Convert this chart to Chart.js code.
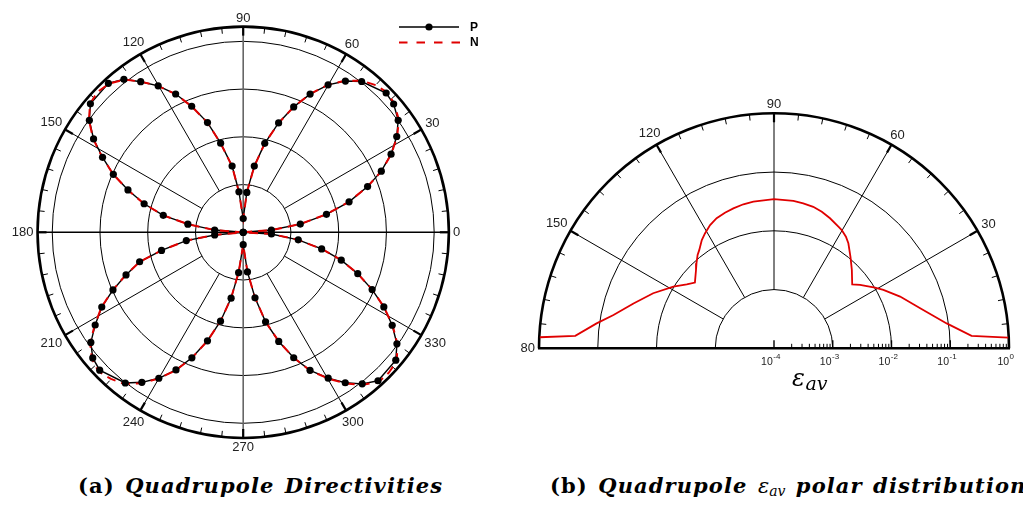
<!DOCTYPE html>
<html>
<head>
<meta charset="utf-8">
<script src="https://cdn.jsdelivr.net/npm/chart.js@4.4.1/dist/chart.umd.min.js"></script>
<style>
  html, body { margin: 0; padding: 0; background: #fff; width: 1023px; height: 509px; overflow: hidden; position: relative; }
  #panelA { position: absolute; left: 0; top: 0; width: 512px; height: 465px; }
  #panelB { position: absolute; left: 520px; top: 0; width: 503px; height: 465px; }
  .cap { position: absolute; top: 475px; line-height: 22px; font-family: "DejaVu Serif", serif; font-weight: bold; font-size: 21px; letter-spacing: 1.1px; word-spacing: 2px; white-space: nowrap; color: #000; }
  .cap i { font-style: italic; }
  .math { font-family: "DejaVu Serif", serif; font-weight: normal; font-style: italic; font-size: 21px; letter-spacing: 0; }
  .math sub { font-size: 14px; vertical-align: -3px; }
</style>
</head>
<body>
<div id="panelA"><canvas id="chartA"></canvas></div>
<div id="panelB"><canvas id="chartB"></canvas></div>
<div class="cap" style="left:78px">(a) <i>Quadrupole Directivities</i></div>
<div class="cap" style="left:550px">(b) <i>Quadrupole <span class="math">ε<sub>av</sub></span> polar distribution</i></div>

<script>
// ---- (a) Quadrupole directivity, normalised amplitude vs. angle (deg) ----
const pAngles = [0, 4.6, 8.2, 12.2, 16.1, 20.2, 23.9, 27.9, 32, 35.9, 40.5, 44.3, 51.9, 56, 60.1, 64.2, 68.1, 72.1, 76.4, 80.5, 84.8, 90,
  96, 99.5, 104.2, 108, 112.2, 116, 120.1, 124.2, 127.9, 132.1, 139.9, 143.9, 148, 151.9, 155.9, 159.8, 163.9, 168, 171.6, 175.5, 180,
  185.3, 188.3, 192.5, 195.9, 200, 203.9, 207.9, 212.1, 215.9, 219.9, 223.9, 232, 236, 240, 244, 247.8, 251.8, 255.7, 259.6, 263.5, 270,
  276.1, 280.2, 284, 288, 291.9, 295.8, 300.2, 304.1, 308.1, 312.2, 320, 324, 328, 332, 336, 340.1, 344.1, 348, 352.2, 356.6, 360];
const pValues = [0, .148, .302, .446, .577, .694, .791, .876, .948, 1.002, 1.036, 1.046, 1.005, .957, .892, .805, .709, .603, .480, .352, .210, .072,
  .214, .352, .482, .605, .714, .807, .888, .955, 1.017, 1.053, 1.046, .997, .924, .835, .745, .643, .540, .428, .293, .150, 0,
  .150, .301, .438, .564, .653, .746, .838, .915, .985, 1.027, 1.043, 1.003, .949, .884, .803, .711, .599, .481, .351, .213, .065,
  .209, .349, .484, .602, .709, .804, .885, .953, 1.010, 1.051, 1.043, .995, .920, .834, .739, .638, .534, .420, .291, .148, 0];

const nAngles = [0, 4.6, 8.2, 12.2, 16.1, 20.2, 23.9, 27.9, 32, 35.9, 40.5, 44.3, 48, 51.9, 56, 60.1, 64.2, 68.1, 72.1, 76.4, 80.5, 84.8, 90,
  96, 99.5, 104.2, 108, 112.2, 116, 120.1, 124.2, 127.9, 132.1, 136, 139.9, 143.9, 148, 151.9, 155.9, 159.8, 163.9, 168, 171.6, 175.5, 180,
  185.3, 188.3, 192.5, 195.9, 200, 203.9, 207.9, 212.1, 215.9, 219.9, 223.9, 228, 232, 236, 240, 244, 247.8, 251.8, 255.7, 259.6, 263.5, 270,
  276.1, 280.2, 284, 288, 291.9, 295.8, 300.2, 304.1, 308.1, 312.2, 316, 320, 324, 328, 332, 336, 340.1, 344.1, 348, 352.2, 356.6, 360];
const nValues = [0, .150, .300, .445, .576, .693, .792, .878, .951, 1.006, 1.040, 1.052, 1.038, 1.010, .960, .893, .806, .709, .602, .479, .350, .208, .072,
  .212, .350, .481, .604, .713, .806, .887, .956, 1.015, 1.050, 1.060, 1.048, 1.000, .927, .837, .746, .644, .541, .428, .292, .149, 0,
  .150, .300, .438, .563, .654, .747, .840, .918, .990, 1.033, 1.052, 1.035, 1.010, .955, .886, .805, .712, .600, .481, .350, .212, .065,
  .208, .348, .483, .601, .709, .806, .888, .958, 1.016, 1.058, 1.060, 1.050, .998, .923, .835, .740, .638, .534, .420, .290, .148, 0];

const dirRings = [0.25, 0.5, 0.75, 1.0];
const dirMax = 1.077;
const dirAngleLabels = [0, 30, 60, 90, 120, 150, 180, 210, 240, 270, 300, 330];
const legendNames = ['P', 'N'];

// ---- (b) ε_av polar distribution over the upper half plane ----
const epsAngles = [2.6, 3.6, 8.2, 15.3, 22.3, 28.1, 31, 36.4, 39.3, 45.2, 50.1, 54.7, 57.2, 60.2, 62.1, 66.7, 70.7, 74.5, 78.6, 82.5, 90,
  98, 102, 106.2, 109.9, 113.8, 117.4, 121, 123.7, 127.3, 129.3, 132.3, 134.9, 140.3, 143.8, 148.5, 155.5, 162.3, 168.3, 172, 176.4, 177.3];
const epsValues = [0.977, 0.234, 0.0933, 0.0380, 0.0209, 0.0129, 0.0101, 0.00661, 0.00525, 0.00759, 0.0107, 0.0155, 0.0182, 0.0209, 0.0220, 0.0257, 0.0290, 0.0316, 0.0329, 0.0339, 0.0347,
  0.0331, 0.0321, 0.0302, 0.0284, 0.0263, 0.0231, 0.0191, 0.0164, 0.0126, 0.0113, 0.00912, 0.00760, 0.00562, 0.00692, 0.0102, 0.0182, 0.0324, 0.0617, 0.112, 0.245, 0.977];
const epsDecades = [-4, -3, -2, -1, 0];
const epsAngleLabels = [30, 60, 90, 120, 150, 180];

const LABEL_FONT = '13px "Liberation Sans", Arial, sans-serif';
const RED = '#e00000';

function polarXY(angles, radii, toR) {
  return angles.map((a, i) => {
    const t = a * Math.PI / 180;
    const r = toR ? toR(radii[i]) : radii[i];
    return { x: r * Math.cos(t), y: r * Math.sin(t) };
  });
}

function frame(chart) {
  const { x, y } = chart.scales;
  const cx = x.getPixelForValue(0), cy = y.getPixelForValue(0);
  const k = x.getPixelForValue(1) - cx;
  return { cx, cy, k };
}

function pt(cx, cy, deg, r) {
  const t = deg * Math.PI / 180;
  return [cx + r * Math.cos(t), cy - r * Math.sin(t)];
}

function line(ctx, a, b, w, color) {
  ctx.beginPath();
  ctx.lineWidth = w;
  ctx.strokeStyle = color || '#000';
  ctx.moveTo(a[0], a[1]);
  ctx.lineTo(b[0], b[1]);
  ctx.stroke();
}

function angleLabel(ctx, cx, cy, deg, R, text) {
  ctx.font = LABEL_FONT;
  ctx.fillStyle = '#222';
  ctx.textAlign = 'center';
  ctx.textBaseline = 'middle';
  const w = ctx.measureText(text).width, h = 10;
  const t = deg * Math.PI / 180;
  const off = R + 4 + 0.5 * (w * Math.abs(Math.cos(t)) + h * Math.abs(Math.sin(t)));
  const p = pt(cx, cy, deg, off);
  ctx.fillText(text, p[0], p[1] + 0.5);
}

// Full-circle polar grid for the directivity plot
const directivityGrid = {
  id: 'directivityGrid',
  beforeDatasetsDraw(chart) {
    const ctx = chart.ctx;
    const { cx, cy, k } = frame(chart);
    const R = dirMax * k;
    ctx.save();
    ctx.lineCap = 'butt';
    dirRings.forEach(r => {
      ctx.beginPath();
      ctx.lineWidth = 1;
      ctx.strokeStyle = '#000';
      ctx.arc(cx, cy, r * k, 0, Math.PI * 2);
      ctx.stroke();
    });
    dirAngleLabels.forEach(a => {
      if (a % 90 !== 0) line(ctx, pt(cx, cy, a, dirRings[0] * k), pt(cx, cy, a, R), 1);
    });
    line(ctx, pt(cx, cy, 180, R), pt(cx, cy, 0, R), 1.4);
    line(ctx, pt(cx, cy, 90, R), pt(cx, cy, 270, R), 1.6, '#666');
    for (let a = 0; a < 360; a += 6) {
      if (a % 30 === 0) line(ctx, pt(cx, cy, a, R - 9), pt(cx, cy, a, R), 2.2);
      else line(ctx, pt(cx, cy, a, R - 6), pt(cx, cy, a, R), 1);
    }
    ctx.beginPath();
    ctx.lineWidth = 2.6;
    ctx.strokeStyle = '#000';
    ctx.arc(cx, cy, R, 0, Math.PI * 2);
    ctx.stroke();
    dirAngleLabels.forEach(a => angleLabel(ctx, cx, cy, a, R, String(a)));
    ctx.restore();
  },
  afterDraw(chart) {
    const ctx = chart.ctx;
    ctx.save();
    line(ctx, [399, 27], [459, 27], 1.5);
    ctx.beginPath();
    ctx.fillStyle = '#000';
    ctx.arc(429, 27, 3.6, 0, Math.PI * 2);
    ctx.fill();
    ctx.setLineDash([8.5, 9]);
    line(ctx, [399, 42.5], [460, 42.5], 2, RED);
    ctx.setLineDash([]);
    ctx.font = 'bold 12px "Liberation Sans", Arial, sans-serif';
    ctx.fillStyle = '#000';
    ctx.textAlign = 'left';
    ctx.textBaseline = 'middle';
    ctx.fillText(legendNames[0], 470, 27.5);
    ctx.fillText(legendNames[1], 470, 43);
    ctx.restore();
  }
};

// Half-circle polar grid with a logarithmic radius for ε_av
const epsGrid = {
  id: 'epsGrid',
  beforeDatasetsDraw(chart) {
    const ctx = chart.ctx;
    const { cx, cy, k } = frame(chart);
    const r0 = epsDecades[0];
    const R = (epsDecades[epsDecades.length - 1] - r0) * k;
    ctx.save();
    epsDecades.slice(1, -1).forEach(d => {
      ctx.beginPath();
      ctx.lineWidth = 1;
      ctx.strokeStyle = '#000';
      ctx.arc(cx, cy, (d - r0) * k, Math.PI, 2 * Math.PI);
      ctx.stroke();
    });
    const rIn = (epsDecades[1] - r0) * k;
    [30, 60, 90, 120, 150].forEach(a => line(ctx, pt(cx, cy, a, rIn), pt(cx, cy, a, R), 1));
    for (let a = 6; a < 180; a += 6) {
      if (a % 30 === 0) line(ctx, pt(cx, cy, a, R - 9), pt(cx, cy, a, R), 2.2);
      else line(ctx, pt(cx, cy, a, R - 6), pt(cx, cy, a, R), 1);
    }
    ctx.beginPath();
    ctx.lineWidth = 2.6;
    ctx.strokeStyle = '#000';
    ctx.arc(cx, cy, R, Math.PI, 2 * Math.PI);
    ctx.stroke();
    // radial axis along the baseline, with log ticks on the right half
    line(ctx, [cx - R - 1, cy], [cx + R + 1, cy], 2.4);
    for (let d = r0; d <= epsDecades[epsDecades.length - 1]; d++) {
      const xd = cx + (d - r0) * k;
      line(ctx, [xd, cy], [xd, cy - 8], 1.4);
      if (d < 0) {
        for (let m = 2; m <= 9; m++) {
          const xm = cx + (d + Math.log10(m) - r0) * k;
          line(ctx, [xm, cy], [xm, cy - 4.5], 1);
        }
      }
    }
    // decade labels
    ctx.fillStyle = '#222';
    ctx.textBaseline = 'alphabetic';
    ctx.textAlign = 'left';
    const baseFont = '10.5px "Liberation Sans", Arial, sans-serif';
    const supFont = '8px "Liberation Sans", Arial, sans-serif';
    epsDecades.forEach(d => {
      const xd = cx + (d - r0) * k;
      ctx.font = baseFont;
      const wb = ctx.measureText('10').width;
      ctx.font = supFont;
      const e = String(d);
      const ws = ctx.measureText(e).width;
      const x0 = xd - 3.5 - (wb + ws) / 2;
      ctx.font = baseFont;
      ctx.fillText('10', x0, 365);
      ctx.font = supFont;
      ctx.fillText(e, x0 + wb + 0.5, 359);
    });
    // axis title
    ctx.fillStyle = '#000';
    ctx.font = 'italic 24px "DejaVu Serif", serif';
    ctx.fillText('ε', cx + 18, 385.5);
    const we = ctx.measureText('ε').width;
    ctx.font = 'italic 19px "DejaVu Serif", serif';
    ctx.fillText('av', cx + 18 + we + 0.5, 389.5);
    epsAngleLabels.forEach(a => angleLabel(ctx, cx, cy, a, R, String(a)));
    ctx.restore();
  }
};

function baseOptions(xmin, xmax, ymin, ymax) {
  return {
    responsive: true,
    maintainAspectRatio: false,
    animation: false,
    layout: { padding: 0 },
    plugins: { legend: { display: false }, tooltip: { enabled: false } },
    scales: {
      x: { type: 'linear', display: false, min: xmin, max: xmax },
      y: { type: 'linear', display: false, min: ymin, max: ymax }
    },
    elements: { line: { tension: 0 } }
  };
}

// Panel (a): 194 px per unit, pole at (243, 232.3) in a 512 x 465 canvas
const sA = 194, cxA = 243, cyA = 232.3, wA = 512, hA = 465;
new Chart(document.getElementById('chartA'), {
  type: 'scatter',
  data: {
    datasets: [
      { label: legendNames[0], data: polarXY(pAngles, pValues), showLine: true, borderColor: '#000', borderWidth: 1.4, pointRadius: 0, order: 3 },
      { label: legendNames[1], data: polarXY(nAngles, nValues), showLine: true, borderColor: RED, borderWidth: 2, borderDash: [9, 6], pointRadius: 0, order: 2 },
      { label: legendNames[0], data: polarXY(pAngles, pValues), showLine: false, pointRadius: 3.6, pointBackgroundColor: '#000', pointBorderColor: '#000', pointBorderWidth: 0, order: 1 }
    ]
  },
  options: baseOptions(-cxA / sA, (wA - cxA) / sA, -(hA - cyA) / sA, cyA / sA),
  plugins: [directivityGrid]
});

// Panel (b): 58.75 px per decade, pole (10^-4) at (254, 348.3) in a 503 x 465 canvas
const sB = 58.75, cxB = 254, cyB = 348.3, wB = 503, hB = 465;
new Chart(document.getElementById('chartB'), {
  type: 'scatter',
  data: {
    datasets: [
      { label: 'ε_av', data: polarXY(epsAngles, epsValues, v => Math.log10(v) - epsDecades[0]), showLine: true, borderColor: RED, borderWidth: 1.8, pointRadius: 0 }
    ]
  },
  options: baseOptions(-cxB / sB, (wB - cxB) / sB, -(hB - cyB) / sB, cyB / sB),
  plugins: [epsGrid]
});
</script>
</body>
</html>
